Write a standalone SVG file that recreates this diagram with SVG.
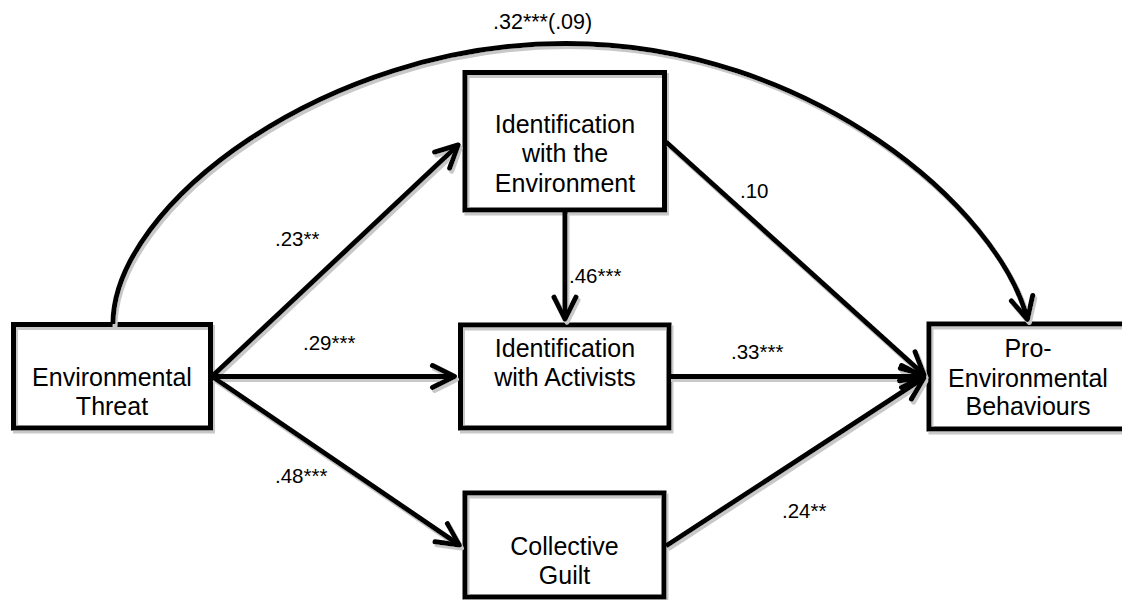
<svg xmlns="http://www.w3.org/2000/svg" width="1122" height="600" viewBox="0 0 1122 600">
<style>
.box{fill:none;stroke:#000;stroke-width:5}
.lbl{font-family:"Liberation Sans",Arial,sans-serif;font-size:25px;fill:#000;text-anchor:middle}
.coef{font-family:"Liberation Sans",Arial,sans-serif;font-size:20.5px;fill:#000}
.con{fill:none;stroke:#000;stroke-width:5}
</style>
<defs>
<filter id="sh" filterUnits="userSpaceOnUse" x="0" y="0" width="1122" height="600">
<feOffset in="SourceAlpha" dx="2" dy="3" result="o"/>
<feFlood flood-color="#c8c8c8"/>
<feComposite in2="o" operator="in" result="s"/>
<feMerge><feMergeNode in="s"/><feMergeNode in="SourceGraphic"/></feMerge>
</filter>
<marker id="arr" markerUnits="userSpaceOnUse" viewBox="-30 -15 35 30" refX="0" refY="0" markerWidth="35" markerHeight="30" orient="auto" overflow="visible">
<path d="M-22,-11 L0,0 L-22,11" fill="none" stroke="#000" stroke-width="5" stroke-linecap="round" stroke-linejoin="round"/>
</marker>
</defs>
<rect x="0" y="0" width="1122" height="600" fill="#fff"/>

<g id="node-threat">
<rect class="box" x="13.5" y="324.5" width="197" height="103.5" filter="url(#sh)"/>
<text class="lbl" x="112" y="386">Environmental</text>
<text class="lbl" x="112" y="415">Threat</text>
</g>
<g id="node-id-env">
<rect class="box" x="465" y="72.5" width="199.5" height="137.5" filter="url(#sh)"/>
<text class="lbl" x="565" y="133">Identification</text>
<text class="lbl" x="565" y="162">with the</text>
<text class="lbl" x="565" y="191.5">Environment</text>
</g>
<g id="node-id-act">
<rect class="box" x="460.5" y="325" width="208.5" height="103" filter="url(#sh)"/>
<text class="lbl" x="565" y="357">Identification</text>
<text class="lbl" x="565" y="386">with Activists</text>
</g>
<g id="node-guilt">
<rect class="box" x="465" y="493" width="199" height="104" filter="url(#sh)"/>
<text class="lbl" x="564.5" y="555">Collective</text>
<text class="lbl" x="564.5" y="584">Guilt</text>
</g>
<g id="node-peb">
<rect class="box" x="929" y="324" width="200" height="105" filter="url(#sh)"/>
<text class="lbl" x="1028" y="357">Pro-</text>
<text class="lbl" x="1028" y="386.5">Environmental</text>
<text class="lbl" x="1028" y="415">Behaviours</text>
</g>

<g id="connectors" filter="url(#sh)">
<path class="con" d="M113,324 C113,205 326,43.5 566,43.5 C811,43.5 1000,210 1027.4,319.5" marker-end="url(#arr)"/>
<path class="con" d="M212,376.5 L458.2,145" marker-end="url(#arr)"/>
<path class="con" d="M212,376.5 L454.5,376.5" marker-end="url(#arr)"/>
<path class="con" d="M212,376.5 L459.4,545.1" marker-end="url(#arr)"/>
<path class="con" d="M565,211 L565,319.2" marker-end="url(#arr)"/>
<path class="con" d="M666,142 L924.1,374.8" marker-end="url(#arr)"/>
<path class="con" d="M669,376.5 L923.5,376.5" marker-end="url(#arr)"/>
<path class="con" d="M666,546 L923.9,377.9" marker-end="url(#arr)"/>
</g>

<g id="labels">
<text class="coef" x="493" y="29" style="font-size:21.5px">.32***(.09)</text>
<text class="coef" x="275" y="246">.23**</text>
<text class="coef" x="303" y="350">.29***</text>
<text class="coef" x="275" y="483">.48***</text>
<text class="coef" x="569" y="283">.46***</text>
<text class="coef" x="740" y="198">.10</text>
<text class="coef" x="731" y="359">.33***</text>
<text class="coef" x="782" y="518">.24**</text>
</g>
</svg>
